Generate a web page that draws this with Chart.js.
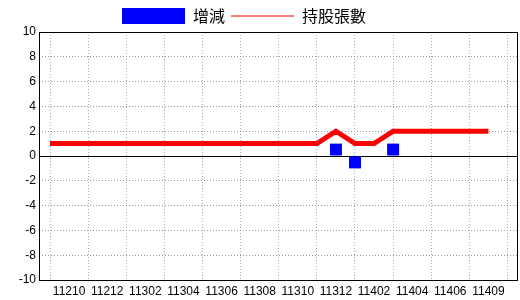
<!DOCTYPE html>
<html>
<head>
<meta charset="utf-8">
<script src="https://cdn.jsdelivr.net/npm/chart.js@4"></script>
<style>
  html, body { margin: 0; padding: 0; background: #fff; }
  #wrap { width: 520px; height: 300px; }
</style>
</head>
<body>
<div id="wrap"><canvas id="c" width="520" height="300"></canvas></div>
<script>
// 年月 (民國)
const months = ['11209','11210','11211','11212','11301','11302','11303','11304','11305','11306','11307','11308',
                '11309','11310','11311','11312','11401','11402','11403','11404','11405','11406','11407','11409'];
// 持股張數
const holdings = [1,1,1,1,1,1,1,1,1,1,1,1,1,1,1,2,1,1,2,2,2,2,2,2];
// 增減
const changes  = [0,0,0,0,0,0,0,0,0,0,0,0,0,0,0,1,-1,0,1,0,0,0,0,0];
const yTicks = { min: -10, max: 10, step: 2 };

const toXY = arr => arr.map((v, i) => ({ x: i, y: v }));

// frame + zero line, legend placement
const framePlugin = {
    id: 'frame',
    afterLayout(chart) {
        const lg = chart.legend;
        if (lg) { lg.left = 116; lg.top += 2; }
    },
    beforeDatasetsDraw(chart) {
        const { ctx, chartArea: a, scales } = chart;
        const y0 = Math.round(scales.y.getPixelForValue(0)) + 0.5;
        ctx.save();
        ctx.strokeStyle = '#000';
        ctx.lineWidth = 1;
        ctx.setLineDash([]);
        ctx.beginPath();
        ctx.moveTo(a.left, y0); ctx.lineTo(a.right, y0);
        ctx.stroke();
        ctx.strokeRect(Math.round(a.left) + 0.5, Math.round(a.top) + 0.5,
                       Math.round(a.right - a.left), Math.round(a.bottom - a.top));
        ctx.restore();
    }
};

new Chart(document.getElementById('c'), {
    data: {
        datasets: [
            { type: 'bar', label: '增減', data: toXY(changes), backgroundColor: '#0000ff',
              borderWidth: 0, inflateAmount: 0, barThickness: 12, order: 1 },
            { type: 'line', label: '持股張數', data: toXY(holdings), borderColor: '#ff0000',
              backgroundColor: '#ff0000', borderWidth: 5, pointRadius: 0, tension: 0, order: 0 }
        ]
    },
    options: {
        responsive: false,
        animation: false,
        layout: { padding: { left: 0, right: 3, top: 0, bottom: 0 } },
        plugins: {
            tooltip: { enabled: false },
            legend: {
                display: true,
                position: 'top',
                align: 'start',
                labels: {
                    usePointStyle: true,
                    pointStyleWidth: 63,
                    boxHeight: 16,
                    padding: 6,
                    color: '#000',
                    font: { family: '"Noto Sans CJK TC", "Noto Sans CJK SC", sans-serif', size: 16 },
                    sort: (a, b) => a.datasetIndex - b.datasetIndex,
                    generateLabels: chart => Chart.defaults.plugins.legend.labels.generateLabels(chart).map(l => {
                        if (l.datasetIndex === 0) {
                            return Object.assign(l, { pointStyle: 'rect', fillStyle: '#0000ff', strokeStyle: '#0000ff', lineWidth: 0 });
                        }
                        return Object.assign(l, { pointStyle: 'line', fillStyle: '#ff0000', strokeStyle: '#ff0000', lineWidth: 1 });
                    })
                }
            }
        },
        scales: {
            x: {
                type: 'linear',
                offset: false,
                min: -0.58,
                max: 24.5,
                border: { display: false, dash: [1, 2] },
                grid: {
                    offset: false,
                    drawTicks: false,
                    color: c => (c.tick && Number.isInteger(c.tick.value) && c.tick.value % 2 === 0) ? '#94b4c8' : 'rgba(0,0,0,0)'
                },
                ticks: {
                    stepSize: 1,
                    includeBounds: false,
                    autoSkip: false,
                    maxRotation: 0,
                    padding: 4,
                    color: '#000',
                    font: { family: '"Liberation Sans", Arial, sans-serif', size: 12 },
                    callback: v => (Number.isInteger(v) && v % 2 === 1 && months[v]) ? months[v] : ''
                },
                afterFit: s => { s.height = 20; }
            },
            y: {
                min: yTicks.min,
                max: yTicks.max,
                border: { display: false, dash: [1, 2] },
                grid: { drawTicks: false, color: '#999999' },
                ticks: {
                    stepSize: yTicks.step,
                    padding: 3,
                    color: '#000',
                    font: { family: '"Liberation Sans", Arial, sans-serif', size: 12 }
                },
                afterFit: s => { s.width = 39; }
            }
        }
    },
    plugins: [framePlugin]
});
</script>
</body>
</html>
